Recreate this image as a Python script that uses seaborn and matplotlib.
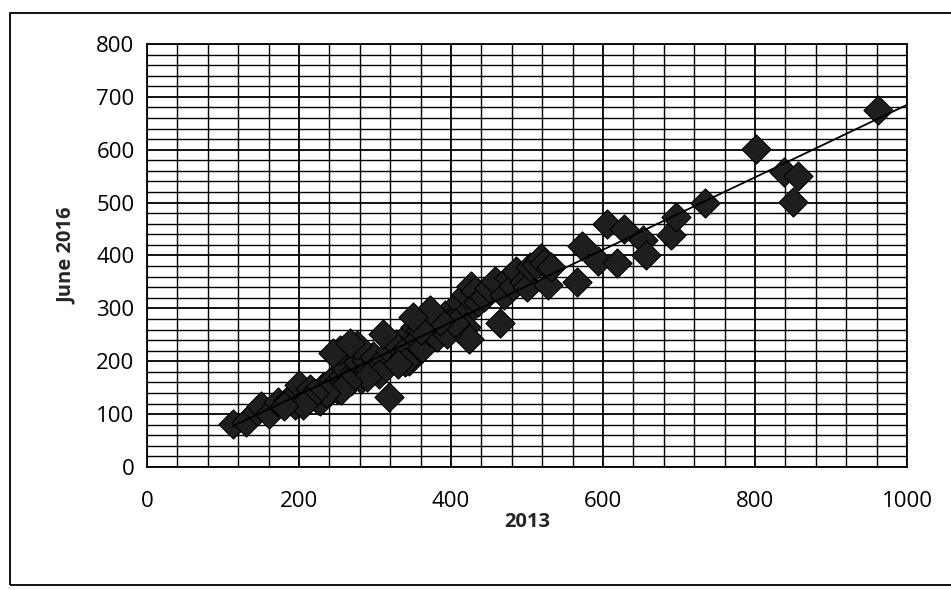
import numpy as np
import pandas as pd
import matplotlib
matplotlib.use("Agg")
import matplotlib.pyplot as plt
from matplotlib.ticker import MultipleLocator
from matplotlib.patches import Rectangle
import seaborn as sns

# Values (2013 vs June 2016)
x_2013 = [113, 130, 145, 150, 160, 172, 185, 195, 198, 200, 212, 215, 225, 228,
          232, 240, 245, 250, 258, 262, 268, 272, 278, 282, 288, 292, 298, 302,
          312, 318, 320, 328, 338, 342, 345, 348, 352, 356, 362, 366, 372, 376,
          382, 388, 392, 398, 400, 408, 412, 418, 420, 424, 420, 426, 432, 436,
          444, 450, 458, 464, 470, 476, 482, 486, 496, 500, 504, 512, 518, 522,
          528, 532, 566, 572, 594, 605, 618, 628, 652, 656, 690, 696, 734, 802,
          838, 850, 856, 962,
          340, 330, 305, 290, 265, 255, 235, 220, 210, 205, 180, 395, 405, 385,
          360, 372, 350, 311, 276, 254, 245, 267]
y_2016 = [82, 86, 105, 116, 100, 122, 127, 117, 140, 156, 132, 147, 127, 124,
          152, 142, 166, 148, 173, 186, 163, 180, 198, 166, 203, 183, 210, 188,
          205, 133, 220, 232, 208, 225, 200, 255, 265, 243, 225, 264, 255, 280,
          245, 268, 288, 264, 278, 284, 312, 290, 265, 243, 328, 342, 332, 312,
          322, 338, 352, 272, 326, 358, 343, 370, 350, 340, 378, 382, 395, 386,
          345, 378, 350, 418, 390, 460, 385, 450, 430, 400, 438, 472, 500, 602,
          558, 502, 550, 676,
          198, 195, 175, 170, 160, 145, 140, 140, 125, 118, 116, 252, 272, 276,
          260, 296, 283, 252, 230, 222, 216, 235]

df = pd.DataFrame({"2013": x_2013, "June 2016": y_2016})

sns.set_theme(style="white")
plt.rcParams["font.family"] = ["Open Sans", "DejaVu Sans"]

fig = plt.figure(figsize=(9.51, 5.90), dpi=100)
ax = fig.add_axes([0.1546, 0.2085, 0.7991, 0.7169])

# Excel-style grid: major and minor lines, all black
ax.set_xlim(0, 1000)
ax.set_ylim(0, 800)
ax.xaxis.set_major_locator(MultipleLocator(200))
ax.xaxis.set_minor_locator(MultipleLocator(40))
ax.yaxis.set_major_locator(MultipleLocator(100))
ax.yaxis.set_minor_locator(MultipleLocator(20))
ax.grid(which="major", color="black", linewidth=1.3)
ax.grid(which="minor", color="black", linewidth=1.0)
ax.set_axisbelow(True)

sns.scatterplot(data=df, x="2013", y="June 2016", marker="D", s=220,
                color="#1e1e1e", edgecolor="black", linewidth=0.8, ax=ax)

# Linear trendline, forecast forward to 1000
slope, intercept = np.polyfit(df["2013"], df["June 2016"], 1)
xs = np.array([min(x_2013), 1000])
ax.plot(xs, slope * xs + intercept, color="black", linewidth=1.3)

for s in ax.spines.values():
    s.set_color("black")
    s.set_linewidth(1.3)

ax.tick_params(axis="both", which="major", direction="out", length=5,
               width=1.2, color="black", labelsize=16, labelcolor="black")
ax.tick_params(axis="x", which="major", pad=12)
ax.tick_params(axis="y", which="major", pad=4)
ax.tick_params(which="minor", length=0)

ax.set_xlabel("2013", fontsize=14.5, fontweight="bold")
ax.set_ylabel("June 2016", fontsize=14.5, fontweight="bold")
ax.xaxis.set_label_coords(0.5, -0.107)
ax.yaxis.set_label_coords(-0.092, 0.5)

# outer chart border
fig.add_artist(Rectangle((0.0105, 0.0085), 1.0, 0.969, transform=fig.transFigure,
                         fill=False, edgecolor="black", linewidth=1.3))

fig.savefig("out.png", dpi=100)
